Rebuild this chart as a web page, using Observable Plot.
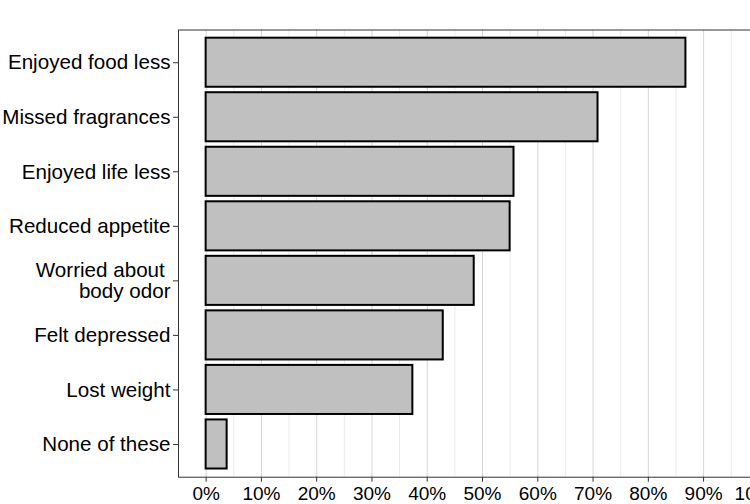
<!DOCTYPE html>
<html>
<head>
<meta charset="utf-8">
<script src="https://cdn.jsdelivr.net/npm/d3@7"></script>
<script src="https://cdn.jsdelivr.net/npm/@observablehq/plot@0.6"></script>
<style>
  html, body { margin: 0; padding: 0; background: #fff; overflow: hidden; }
  svg { overflow: hidden; }
</style>
</head>
<body>
<div id="chart"></div>
<script>
const categories = [
  "Enjoyed food less",
  "Missed fragrances",
  "Enjoyed life less",
  "Reduced appetite",
  "Worried about\u00a0\nbody odor",
  "Felt depressed",
  "Lost weight",
  "None of these"
];
const percents = [86.8, 70.9, 55.7, 55.0, 48.5, 42.9, 37.4, 3.8];
const majorTicks = [0, 10, 20, 30, 40, 50, 60, 70, 80, 90, 100];
const minorTicks = [5, 15, 25, 35, 45, 55, 65, 75, 85, 95];

const data = categories.map((c, i) => ({category: c, value: percents[i]}));

const chart = Plot.plot({
  width: 750,
  height: 504,
  marginLeft: 178,
  marginRight: -36,
  marginTop: 29.5,
  marginBottom: 27.3,
  style: {fontFamily: "'Liberation Sans', Arial, sans-serif", background: "#fff"},
  x: {domain: [-5, 105]},
  y: {domain: categories, paddingInner: 0.1, paddingOuter: 0.15, round: false},
  marks: [
    Plot.ruleX(minorTicks, {stroke: "#ececec", strokeWidth: 1}),
    Plot.ruleX(majorTicks, {stroke: "#d6d6d6", strokeWidth: 1}),
    Plot.barX(data, {x: "value", y: "category", fill: "#c0c0c0", stroke: "#000", strokeWidth: 2}),
    Plot.frame({stroke: "#333", strokeWidth: 1}),
    Plot.axisY({
      tickSize: 5,
      tickPadding: 3,
      fontSize: 20.6,
      lineHeight: 1.02,
      stroke: "#333",
      fill: "#000",
      label: null
    }),
    Plot.axisX({
      ticks: majorTicks,
      tickFormat: d => d + "%",
      tickSize: 5,
      tickPadding: 4,
      fontSize: 19,
      stroke: "#333",
      fill: "#000",
      label: null
    })
  ]
});
document.getElementById("chart").appendChild(chart);
</script>
</body>
</html>
